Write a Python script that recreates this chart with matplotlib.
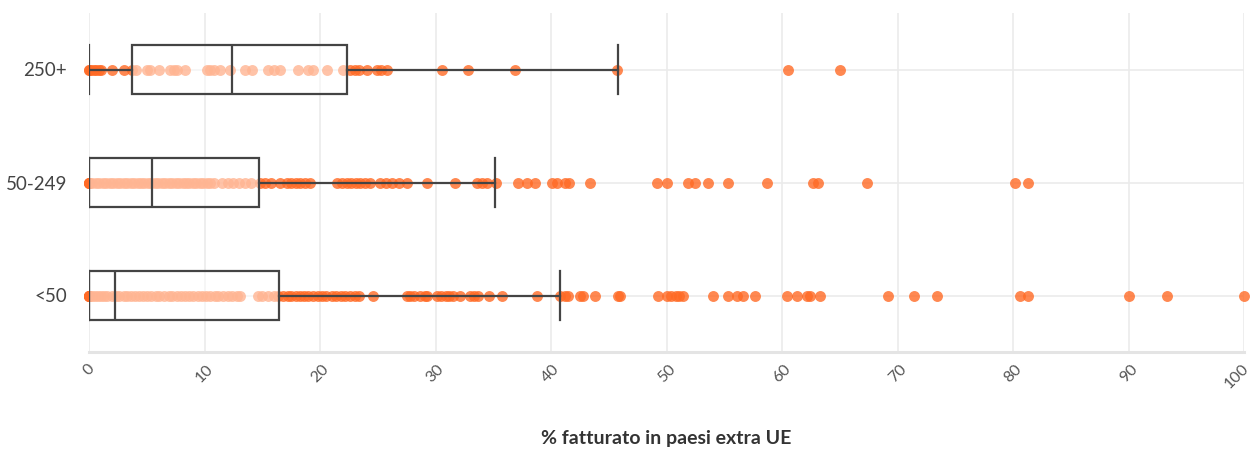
import matplotlib.pyplot as plt
import matplotlib.transforms as mtransforms
import numpy as np

plt.rcParams['font.family'] = ['Lato', 'DejaVu Sans']

categories = ['<50', '50-249', '250+']

# box statistics (same order as categories)
q1 = [0.0, 0.0, 3.7]
median = [2.25, 5.45, 12.4]
q3 = [16.45, 14.7, 22.3]
whislo = [0.0, 0.0, 0.0]
whishi = [40.8, 35.15, 45.8]

# individual companies
small = [0, 0, 0, 0, 0, 0, 0.3, 0.5, 0.8, 1.0, 1.3, 1.6, 2.0, 2.3, 2.6, 3.0, 3.3,
         3.6, 4.0, 4.3, 4.7, 5.0, 5.4, 5.8, 6.1, 6.5, 6.9, 7.2, 7.6, 8.0, 8.3,
         8.7, 9.0, 9.4, 9.8, 10.1, 10.5, 10.9, 11.2, 11.6, 12.0, 12.4, 12.8, 13.1,
         14.6, 15.0, 15.5, 16.0, 16.4,
         16.8, 17.2, 17.5, 17.9, 18.3, 18.6, 19.0, 19.4, 19.8, 20.2, 20.5, 21.0,
         21.4, 21.8, 22.2, 22.6, 23.0, 23.4, 24.6, 27.5, 27.8, 28.1, 28.7, 29.1,
         29.3, 30.1, 30.5, 30.9, 31.2, 31.5, 32.1, 33.0, 33.3, 33.7, 34.6, 35.8,
         38.8, 40.8, 41.2, 41.5, 42.5, 42.8, 43.8, 45.8, 46.0, 49.3, 50.0, 50.4,
         50.8, 51.1, 51.4, 54.0, 55.3, 56.1, 56.6, 57.7, 60.4, 61.3, 62.2, 62.4,
         63.3, 69.2, 71.4, 73.4, 80.6, 81.3, 90.0, 93.3, 100.0]
medium = [0, 0, 0, 0, 0.3, 0.6, 0.9, 1.2, 1.5, 1.8, 2.1, 2.4, 2.7, 3.0, 3.3, 3.6,
          3.9, 4.2, 4.5, 4.8, 5.1, 5.4, 5.7, 6.0, 6.3, 6.6, 6.9, 7.2, 7.5, 7.8,
          8.1, 8.4, 8.7, 9.0, 9.3, 9.6, 9.9, 10.2, 10.5, 10.8, 11.5, 12.0, 12.5,
          13.0, 13.5, 14.0, 14.8,
          15.2, 15.8, 16.5, 17.1, 17.5, 17.9, 18.3, 18.7, 19.1, 21.5, 21.9, 22.3,
          22.7, 23.1, 23.5, 23.9, 24.3, 25.2, 25.7, 26.2, 26.8, 27.5, 29.3, 31.7,
          33.6, 34.0, 34.5, 35.2, 37.1, 37.9, 38.6, 40.1, 40.5, 41.2, 41.6, 43.4,
          49.2, 50.0, 51.9, 52.5, 53.6, 55.3, 58.7, 62.7, 63.1, 67.4, 80.2, 81.3]
large = [0, 0, 0.2, 0.4, 0.6, 0.9, 1.0, 2.0, 3.0, 3.7, 4.1, 5.0, 5.3, 6.1, 7.0,
         7.4, 7.6, 8.3, 10.2, 10.5, 10.8, 11.3, 12.2, 13.5, 14.1, 15.5, 16.0,
         16.5, 18.1, 19.0, 19.4, 20.6, 22.0, 22.6, 23.0, 23.4, 24.1, 24.9, 25.3,
         25.8, 30.6, 32.8, 36.9, 45.7, 60.5, 65.0]
points = [small, medium, large]

fig = plt.figure(figsize=(12.54, 4.57), dpi=100)
ax = fig.add_axes([89 / 1254, 105 / 457, 1155 / 1254, 339 / 457])

for i, vals in enumerate(points):
    ax.scatter(vals, [i] * len(vals), s=62, color='#ff6a25', alpha=0.8,
               linewidths=0, zorder=2, clip_on=False)

stats = []
for i in range(len(categories)):
    stats.append(dict(q1=q1[i], med=median[i], q3=q3[i],
                      whislo=whislo[i], whishi=whishi[i], label=categories[i]))

ax.bxp(stats, positions=range(len(categories)), orientation='horizontal',
       widths=0.44, capwidths=0.44, showfliers=False, patch_artist=True,
       boxprops=dict(facecolor=(1, 1, 1, 0.5), edgecolor='#444444', linewidth=1.6),
       medianprops=dict(color='#444444', linewidth=1.6),
       whiskerprops=dict(color='#444444', linewidth=1.6),
       capprops=dict(color='#444444', linewidth=1.6),
       zorder=3)

ax.set_xlim(0, 100)
ax.set_ylim(-0.5, 2.5)
ax.set_xticks(np.arange(0, 101, 10))
ax.set_yticks(range(len(categories)))
ax.set_yticklabels(categories)

ax.grid(True, color='#ebebeb', linewidth=1.2, zorder=0)
ax.set_axisbelow(True)
for s in ['top', 'right', 'left']:
    ax.spines[s].set_visible(False)
ax.spines['bottom'].set_color('#e4e4e4')
ax.spines['bottom'].set_linewidth(2.2)

ax.tick_params(axis='y', length=0, pad=16, labelsize=13.5, labelcolor='#444444')
ax.tick_params(axis='x', length=0, pad=7, labelsize=11.5, labelcolor='#555555')
labels = ax.get_xticklabels()
for lab in labels:
    lab.set_rotation(45)
    lab.set_ha('center')
# keep the last label inside the figure
shift = mtransforms.ScaledTranslation(-7 / 100, 0, fig.dpi_scale_trans)
labels[-1].set_transform(labels[-1].get_transform() + shift)

ax.set_xlabel('% fatturato in paesi extra UE', fontsize=14, fontweight='bold',
              color='#333333', labelpad=28)

fig.savefig('out.png', dpi=100)
